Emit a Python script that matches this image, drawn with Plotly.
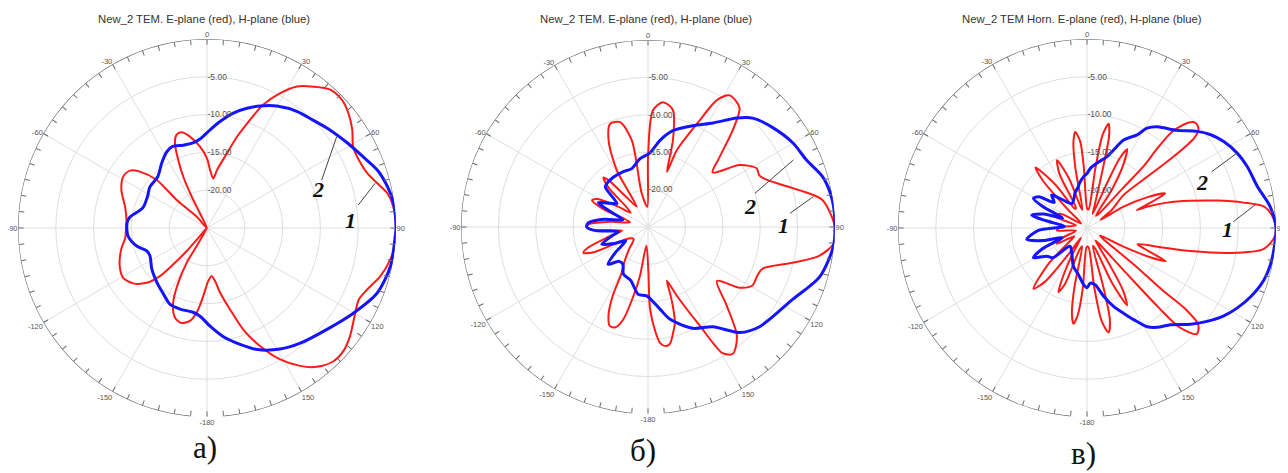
import plotly.graph_objects as go

# ---------------- data (angle in degrees, level in dB) ----------------
# Panel a: New_2 TEM
A_E_THETA = [90, 83.5, 79.1, 75.3, 71.1, 65.8, 61, 55.9, 50.9, 46.5, 41.7, 37, 32.5, 28.5, 24.5, 21.7, 18.2,
             14.9, 9.8, 7.2, 3, 0, -4.9, -10.6, -14.9, -18, -20.7, -22.9, -24.8, -26, -25.5, -35,
             -42.3, -47.3, -46.3, -50, -53.3, -58.5, -66, -75.4, -84.3, -89, -97, -104, -113.6, -120.7,
             -126.9, -132.2, -135.6, -137.1, -138.6, -138.8, -145, -150.2, -149.7, -152.3, -155.7, -160.4,
             -165, -169.6, -173, -176.9, 178.6, 174.4, 171.4, 168.6, 164.2, 160.3, 155.8, 150.9, 146,
             141.7, 136.5, 132, 127, 122, 115.2, 111, 105.5, 99.7, 94.5, 90]
A_E_DB = [0, -0.2, -0.7, -1.7, -2.6, -3.0, -2.9, -1.8, -0.9, -0.4, -0.5, -1.6, -2.8, -4.7, -7.1, -9.6, -12.3,
          -14.8, -17.2, -18.4, -17.3, -15.8, -14.2, -12.7, -11.9, -12.0, -13.0, -15.2, -17.5, -20.4, -22.8, -25,
          -23, -19.6, -15.8, -13.4, -12.3, -12.0, -12.6, -13.8, -14.3, -14.3, -14.1, -13.3, -12.4, -12.1,
          -12.8, -14.2, -16.1, -18.4, -20.9, -23.6, -25, -22.3, -19.7, -16.8, -14.1, -12.4,
          -12.0, -12.5, -13.7, -16.0, -18.0, -18.6, -17.9, -16.3, -13.8, -10.7, -7.9, -5.1, -3.0,
          -1.6, -0.7, -0.7, -1.3, -2.1, -2.8, -2.3, -1.2, -0.4, 0, 0]
A_H_THETA = [90, 82.4, 77.2, 71.2, 65.5, 58.7, 51.4, 44.5, 37.8, 29.8, 23.5, 18.5, 12.9, 7, 1.8, -4.5, -9.4,
             -16, -22.8, -27.8, -34.7, -43.9, -54.3, -62.3, -72.6, -81.9, -86.4, -95.8, -104.4, -111, -116,
             -126.7, -137.7, -145.9, -154, -161.6, -170.5, -175.5, 178.2, 171.6, 164.1, 157.5, 148.9, 141,
             130, 120.2, 110.9, 101.7, 93.3, 90]
A_H_DB = [0, -0.1, -0.5, -1.2, -2.3, -3.3, -4.2, -5.0, -5.5, -6.4, -7.4, -8.3, -9.4, -10.8, -12.0, -13.2, -13.6,
          -13.6, -13.3, -13.6, -14.5, -15.6, -15.7, -16.1, -16.1, -14.7, -14.4, -14.5, -15.4, -16.5, -16.6,
          -15.9, -15.2, -14.6, -13.8, -13.7, -13.7, -13.3, -12.0, -10.5, -9.0, -7.6, -6.3, -5.4,
          -4.2, -2.6, -0.9, -0.2, -0.1, 0]

# Panel b: New_2 TEM
B_E_THETA = [90, 81.2, 76.3, 68.4, 65.1, 61.6, 56, 49.8, 45.8, 41.2, 37.5, 31.8, 28.5, 25.9, 20.6, 19, 16, 12,
             6.8, 2.4, 0, -2, -10.6, -10.6, -14.9, -20.1, -24.5, -28.8, -29, -36, -40, -42, -45, -50, -56,
             -61, -64.4, -68, -75, -82, -87, -90, -93, -98, -104, -109, -111.7, -115, -121, -130, -140, -147,
             -150, -153, -156, -159, -162, -165, -168, -170.7, -175, 179.5, 178.6, 176, 174, 171.5, 169.4, 166,
             164.3, 162.5, 161.6, 160.6, 157.2, 152.3, 149.4, 146.2, 140.8, 135, 128, 123.5,
             119.3, 114, 110, 103.9, 99.6, 94.8, 90]
B_E_DB = [0, -1.4, -4.2, -7.9, -8.6, -8.5, -10.2, -13.7, -11.7, -7.8, -4.9, -4.3, -5.7, -9.1, -14, -17.2, -12.9, -9,
          -8.2, -9.4, -15.7, -22.3, -20.4, -13.2, -10.5, -10.3, -12.3, -16.3, -21.9, -20, -17, -16.1, -17.5, -22, -20,
          -17.3, -16.7, -18.5, -22.5, -20, -17.2, -16.8, -17.5, -21.5, -19.5, -16.5, -15.7, -17, -22, -22.5, -21, -19,
          -18, -14.5, -12, -10.8, -10.9, -12.2, -15.5, -18.4, -22.5, -19, -14.1, -11, -9.4, -8.9, -9.1, -10.8,
          -11.7, -14, -15.7, -17.4, -15, -10.1, -5.4, -4.6, -6.2, -10.1, -13.3, -10.3,
          -9, -9, -8.7, -5.1, -1.8, 0, 0]
B_H_THETA = [90, 81.7, 74, 67.1, 59.9, 51.3, 43.9, 39.2, 32, 23.8, 14.5, 7.9, 1.5, -6.6, -15.5, -24, -34.9,
             -43.4, -47, -53, -58, -64, -68, -74, -80, -86, -90, -94, -99, -104, -110.5, -116, -122, -128,
             -133, -140, -146, -152.4, -162, -171.8, -178.9, 171.7, 166.5, 156.2, 147, 139, 131.8, 116.7,
             106.2, 96.2, 90]
B_H_DB = [0, -0.1, -0.7, -2, -2.6, -3.7, -4.8, -6.2, -8.6, -10.2, -11.7, -13.3, -15.1, -15.8, -16.9, -16.9, -16.9,
          -17, -17.2, -19.8, -19, -17.6, -19.8, -21.5, -19, -17, -16.8, -18, -21, -20, -18.4, -20, -21.5, -19.5,
          -17.7, -19, -19, -17.9, -17.5, -15.9, -15.8, -13.9, -12.3, -10.2, -9.1, -6.3, -5, -3.4,
          -1.1, -0.1, 0]

# Panel c: New_2 TEM Horn
C_E_THETA = [90, 86, 83.1, 80.8, 78.1, 75.2, 72.4, 70.5, 70.2, 68.5, 66.1, 62.9, 59.8, 59, 54, 48, 49.4, 50.5,
             50, 48.5, 46, 44, 41.5, 41.5, 42.5, 42, 40, 36, 33, 30, 27, 25, 24, 22, 19, 15, 13.5, 11.7, 9.5,
             8, 5, 1, -3, -4.5, -7, -9, -11, -14, -17, -20, -23.8, -27, -29, -32, -36, -40.3, -43, -46, -52,
             -62, -70, -77, -88, -95, -103, -112, -117.5, -123, -128, -133, -138.6, -142, -145, -148, -151,
             -154, -156, -158.5, -161, -165, -168, -170, -172, -174, -176, -179, 176, 173, 171, 168.3, 166,
             164.5, 162, 158, 155.5, 152.6, 150, 148, 146, 143, 139, 138, 137, 134, 131, 129.5, 129.5, 128,
             124, 120, 117, 115, 112.9, 110.5, 107.7, 104.4, 102.6, 99.9, 96.8, 93, 90]
C_E_DB = [0, -0.5, -1.4, -4, -7.4, -10.9, -13.9, -16.6, -18, -16.3, -13.7, -16.1, -19.4, -22.9, -21, -18.5, -15.2,
          -10.2, -6.5, -5.3, -5.0, -5.6, -8, -11, -14, -18, -22.5, -23, -19, -15.5, -13.3, -15, -19, -23, -22,
          -17, -12.5, -10.9, -12.5, -17, -22.5, -22.5, -17, -13.5, -12.2, -13.5, -17, -22.5, -22, -18, -15.2,
          -17, -22, -22, -18, -14.5, -16.5, -21.5, -24, -21, -20.5, -23.5, -21.5, -21, -23.5, -21.5, -20.5,
          -23, -22, -18, -14.3, -16, -21, -23.5, -21, -17.5, -15.7, -17, -22, -22.5, -17, -13.5, -12.2,
          -13.5, -17, -22.5, -22.5, -17, -12.5, -10.9, -12.5, -17, -22.5, -22, -17, -13.5, -15.5, -20, -23,
          -22.5, -17, -11, -7, -4.8, -5.5, -8, -12, -17, -22.5, -23, -19.5, -16, -13.7, -16.3, -18, -14.5,
          -11, -5.8, -1.5, -0.2, 0]
C_H_THETA = [90, 83.4, 76.3, 69, 63.5, 57.7, 53, 48.8, 42.8, 37.5, 34.8, 31, 28.3, 22.6, 18.8, 15.7, 8.8, 3.2, 0,
             -3.8, -8.2, -13.4, -18, -31.6, -42, -47, -52, -57, -61, -64, -68, -72, -77, -80, -86, -93,
             -100.7, -106, -111, -115, -119, -125, -131, -137, -150, -160.6, -169.8, -176.6, 180, 176.6,
             171.7, 166.3, 161.2, 156.7, 153, 148.6, 144.7, 139.2, 132.9, 127.9, 122.7, 118.1, 112.7, 106.3,
             99.7, 90]
C_H_DB = [0, -0.6, -1.8, -2.3, -2.8, -3.6, -4.5, -5.6, -7.4, -8.3, -8.7, -9.6, -11, -12.4, -14.1, -15.2, -16.3,
          -17.1, -17.8, -18.2, -18.8, -19.6, -20, -21.2, -19.8, -18.6, -19.5, -17.4, -16.9, -18.5, -21.5, -19,
          -17.5, -19.5, -22, -18.5, -16.9, -19, -21.5, -18.5, -16.9, -18.5, -19, -21.7, -21, -19.6, -18.7,
          -17.5, -17.1, -17.7, -17.4, -15.7, -14, -12.7, -11.4, -9.7, -8.9, -8.1, -6.3, -4.9, -3.5, -2.5,
          -1.5, -0.6, -0.2, 0]

TITLES = ["New_2 TEM. E-plane (red), H-plane (blue)",
          "New_2 TEM. E-plane (red), H-plane (blue)",
          "New_2 TEM Horn. E-plane (red), H-plane (blue)"]
PANEL_LABELS = ["а)", "б)", "в)"]
RING_VALS = [-20, -15, -10, -5]
RING_TEXT = ["-20.00", "-15.00", "-10.00", "-5.00"]
R_MIN, R_MAX = -25, 0

# ---------------- layout geometry (screen pixels; page body has an 8px margin) ----------------
OFF = 8
W, H = 1288 - OFF, 473 - OFF
CENTERS = [(207, 228), (648, 227), (1087, 228)]
RADII = [189, 187, 189]
TITLE_X = [204, 646, 1082]
TITLE_Y = 19
LABEL_POS = [(205, 447), (643, 450), (1083, 453)]
CURVE_LABELS = [
    [("2", 318, 190, 321.7, 180, 336.7, 136.7), ("1", 350, 220, 358.3, 205, 375, 183.3)],
    [("2", 750, 206, 755, 193.3, 793.3, 160), ("1", 783, 226, 790, 213.3, 813.3, 196.7)],
    [("2", 1202, 182, 1211.7, 171.7, 1236.7, 153.3), ("1", 1227, 229, 1233.3, 221.7, 1255, 205)],
]


def px(x):
    return (x - OFF) / W


def py(y):
    return 1 - (y - OFF) / H


RED = "#ff1a1a"
BLUE = "#1414ff"
GRID = "#dedede"
AXC = "#6a6a6a"

data = [(A_E_THETA, A_E_DB, A_H_THETA, A_H_DB),
        (B_E_THETA, B_E_DB, B_H_THETA, B_H_DB),
        (C_E_THETA, C_E_DB, C_H_THETA, C_H_DB)]

fig = go.Figure()

tick_vals = list(range(0, 360, 5))
tick_text = [(str(v) if v <= 150 else str(v - 360)) if v % 30 == 0 else "" for v in tick_vals]

spoke_t, spoke_r = [], []
major_t, major_r = [], []
for a in range(0, 360, 30):
    spoke_t += [a, a, None]
    spoke_r += [R_MIN, R_MAX, None]
    if a != 180:
        major_t += [a, a, None]
        major_r += [R_MAX, R_MAX + 0.8, None]
arc_t = list(range(-175, 176, 1))
arc_r = [R_MAX] * len(arc_t)

annotations = []
shapes = []
for i, (et, er, ht, hr) in enumerate(data):
    pid = "polar" if i == 0 else f"polar{i+1}"
    fig.add_trace(go.Scatterpolar(theta=spoke_t, r=spoke_r, mode="lines", subplot=pid,
                                  line=dict(color=GRID, width=1), hoverinfo="skip", showlegend=False))
    fig.add_trace(go.Scatterpolar(theta=arc_t, r=arc_r, mode="lines", subplot=pid, cliponaxis=False,
                                  line=dict(color=AXC, width=1.2), hoverinfo="skip", showlegend=False))
    fig.add_trace(go.Scatterpolar(theta=major_t, r=major_r, mode="lines", subplot=pid, cliponaxis=False,
                                  line=dict(color=AXC, width=1), hoverinfo="skip", showlegend=False))
    fig.add_trace(go.Scatterpolar(theta=et, r=er, mode="lines", subplot=pid, name="E-plane",
                                  line=dict(color=RED, width=2, shape="spline", smoothing=0.8),
                                  showlegend=False))
    fig.add_trace(go.Scatterpolar(theta=ht, r=hr, mode="lines", subplot=pid, name="H-plane",
                                  line=dict(color=BLUE, width=3, shape="spline", smoothing=0.8),
                                  showlegend=False))
    cx, cy = CENTERS[i]
    rad = RADII[i]
    polar_cfg = dict(
        domain=dict(x=[px(cx - rad), px(cx + rad)], y=[py(cy + rad), py(cy - rad)]),
        bgcolor="rgba(0,0,0,0)",
        angularaxis=dict(rotation=90, direction="clockwise", tickmode="array", tickvals=tick_vals,
                         ticktext=tick_text, ticks="inside", ticklen=5, tickwidth=1, tickcolor=AXC,
                         showline=False, showgrid=False,
                         tickfont=dict(size=7.5, color="#555555", family="Liberation Sans")),
        radialaxis=dict(range=[R_MIN, R_MAX], tickmode="array", tickvals=RING_VALS, ticktext=RING_TEXT,
                        angle=90, tickangle=90, showline=False, ticks="", gridcolor=GRID, gridwidth=1,
                        tickfont=dict(size=8.5, color="#555555", family="Liberation Sans")),
    )
    fig.layout[pid] = polar_cfg
    annotations.append(dict(text=TITLES[i], x=px(TITLE_X[i]), y=py(TITLE_Y), xref="paper", yref="paper",
                            xanchor="center", yanchor="middle", showarrow=False,
                            font=dict(size=11.3, color="#333333", family="Liberation Sans")))
    lx, ly = LABEL_POS[i]
    annotations.append(dict(text=PANEL_LABELS[i], x=px(lx), y=py(ly), xref="paper", yref="paper",
                            xanchor="center", yanchor="middle", showarrow=False,
                            font=dict(size=31, color="#111111", family="Liberation Serif")))
    for (txt, tx, ty, x0, y0, x1, y1) in CURVE_LABELS[i]:
        annotations.append(dict(text=f"<b><i>{txt}</i></b>", x=px(tx), y=py(ty), xref="paper",
                                yref="paper", xanchor="center", yanchor="middle", showarrow=False,
                                font=dict(size=22, color="#111111", family="Liberation Serif")))
        shapes.append(dict(type="line", xref="paper", yref="paper", x0=px(x0), y0=py(y0),
                           x1=px(x1), y1=py(y1), line=dict(color="#444444", width=1)))

fig.update_layout(width=W, height=H, margin=dict(l=0, r=0, t=0, b=0), paper_bgcolor="white",
                  plot_bgcolor="white", annotations=annotations, shapes=shapes, showlegend=False)
fig.write_html("out.html")
